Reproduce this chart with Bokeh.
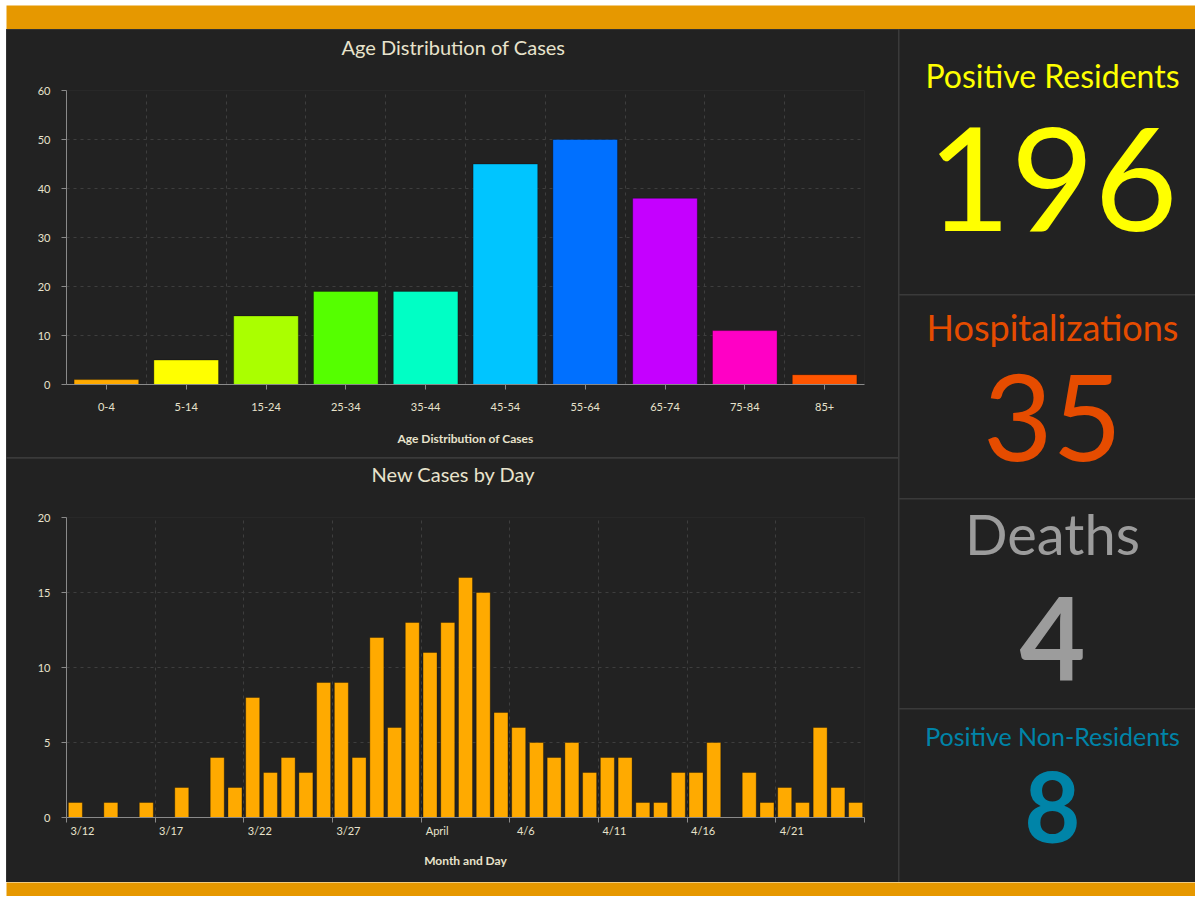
from bokeh.plotting import figure
from bokeh.models import ColumnDataSource, FixedTicker, Range1d, LinearAxis, Spacer, Title
from bokeh.layouts import row, column
from bokeh.embed import file_html
from bokeh.resources import INLINE
from bokeh.core.properties import value

# ---------------- data ----------------
age_groups = ["0-4", "5-14", "15-24", "25-34", "35-44", "45-54", "55-64", "65-74", "75-84", "85+"]
age_cases = [1, 5, 14, 19, 19, 45, 50, 38, 11, 2]
age_colors = ["#FFAA00", "#FFFF00", "#AAFF00", "#55FF00", "#00FFC5",
              "#00C5FF", "#0070FF", "#C500FF", "#FF00C5", "#FF5500"]
age_y_ticks = [0, 10, 20, 30, 40, 50, 60]

day_dates = ["3/12", "3/13", "3/14", "3/15", "3/16", "3/17", "3/18", "3/19", "3/20", "3/21",
             "3/22", "3/23", "3/24", "3/25", "3/26", "3/27", "3/28", "3/29", "3/30", "3/31",
             "4/1", "4/2", "4/3", "4/4", "4/5", "4/6", "4/7", "4/8", "4/9", "4/10",
             "4/11", "4/12", "4/13", "4/14", "4/15", "4/16", "4/17", "4/18", "4/19", "4/20",
             "4/21", "4/22", "4/23", "4/24", "4/25"]
daily_cases = [1, 0, 1, 0, 1, 0, 2, 0, 4, 2,
               8, 3, 4, 3, 9, 9, 4, 12, 6, 13,
               11, 13, 16, 15, 7, 6, 5, 4, 5, 3,
               4, 4, 1, 1, 3, 3, 5, 0, 3, 1,
               2, 1, 6, 2, 1]
date_tick_days = [0, 5, 10, 15, 20, 25, 30, 35, 40]
date_tick_labels = ["3/12", "3/17", "3/22", "3/27", "April", "4/6", "4/11", "4/16", "4/21"]
daily_y_ticks = [0, 5, 10, 15, 20]

kpi_titles = ["Positive Residents", "Hospitalizations", "Deaths", "Positive Non-Residents"]
kpi_values = ["196", "35", "4", "8"]
kpi_colors = ["#FFFF00", "#E64C00", "#9C9C9C", "#0084A8"]

# ---------------- style ----------------
BG = "#222222"
SEP = "#3a3a3a"
ORANGE = "#E69800"
TXT = "#e8e3cc"
GRID = "#3e3e3e"
AXIS = "#8a8a8a"
FONT = "Lato"

TOTAL_W = 1189
LEFT_W = 892
RIGHT_W = TOTAL_W - LEFT_W - 1


def base_fig(w, h, **kw):
    p = figure(width=w, height=h, toolbar_location=None, output_backend="svg",
               background_fill_color=BG, border_fill_color=BG, outline_line_color=None, **kw)
    return p


def style_axes(p):
    for ax in p.axis:
        ax.axis_line_color = AXIS
        ax.major_tick_line_color = AXIS
        ax.minor_tick_line_color = None
        ax.major_tick_in = 0
        ax.major_tick_out = 5
        ax.major_label_text_color = TXT
        ax.major_label_text_font = FONT
        ax.major_label_text_font_size = "11px"
        ax.axis_label_text_color = TXT
        ax.axis_label_text_font = FONT
        ax.axis_label_text_font_size = "12px"
        ax.axis_label_text_font_style = "bold"
    for g in p.grid:
        g.grid_line_color = GRID
        g.grid_line_dash = "3 4"
        g.grid_line_width = 1


def add_title(p, text, offset):
    # a thin spacer between frame and title pushes the title towards the panel top
    p.add_layout(Title(text=" ", text_font_size="1px", standoff=29), "above")
    p.add_layout(Title(text=text, align="left", offset=offset, standoff=0, text_color=TXT,
                       text_font=FONT, text_font_size="20px", text_font_style="normal"),
                 "above")


# ---------------- age chart ----------------
p1 = base_fig(LEFT_W, 428, x_range=age_groups, y_range=Range1d(0, 60),
              min_border_left=60, min_border_right=34, min_border_top=61, min_border_bottom=73)
src1 = ColumnDataSource(dict(age=age_groups, cases=age_cases, color=age_colors))
p1.vbar(x="age", top="cases", width=0.81, fill_color="color", line_color="#000000",
        line_alpha=0.3, source=src1)
style_axes(p1)
add_title(p1, "Age Distribution of Cases", 275)
p1.yaxis.ticker = FixedTicker(ticks=age_y_ticks)
p1.yaxis.major_label_standoff = 11
p1.xaxis.axis_label = "Age Distribution of Cases"
p1.xaxis.major_label_standoff = 13
p1.xaxis.axis_label_standoff = 17
p1.xgrid.ticker = FixedTicker(ticks=list(range(1, len(age_groups) + 1)))
p1.ygrid.ticker = FixedTicker(ticks=age_y_ticks)

# ---------------- daily chart ----------------
n_days = len(daily_cases)
p2 = base_fig(LEFT_W, 424, x_range=Range1d(0, n_days), y_range=Range1d(0, 20),
              min_border_left=60, min_border_right=34, min_border_top=59, min_border_bottom=65)
src2 = ColumnDataSource(dict(x=[i + 0.5 for i in range(n_days)], cases=daily_cases, date=day_dates))
p2.vbar(x="x", top="cases", width=0.79, fill_color="#FFAA00", line_color="#000000",
        line_alpha=0.3, source=src2)
tick_bounds = list(range(0, n_days + 1, 5))
p2.xaxis.ticker = FixedTicker(ticks=tick_bounds)
p2.xaxis.major_label_overrides = {t: "" for t in tick_bounds}
p2.extra_x_ranges = {"lbl": Range1d(-0.9, n_days - 0.9)}
lab_ax = LinearAxis(x_range_name="lbl", ticker=FixedTicker(ticks=date_tick_days),
                    major_label_overrides=dict(zip(date_tick_days, date_tick_labels)))
p2.add_layout(lab_ax, "below")
style_axes(p2)
add_title(p2, "New Cases by Day", 305)
p2.xaxis[0].major_label_text_font_size = "1px"
p2.xaxis[0].major_label_standoff = 0
lab_ax.axis_line_color = None
lab_ax.major_tick_line_color = None
lab_ax.major_tick_out = 0
lab_ax.major_label_standoff = 1
lab_ax.axis_label = "Month and Day"
lab_ax.axis_label_standoff = 13
p2.yaxis.ticker = FixedTicker(ticks=daily_y_ticks)
p2.yaxis.major_label_standoff = 11
p2.xgrid.ticker = FixedTicker(ticks=tick_bounds[1:])
p2.ygrid.ticker = FixedTicker(ticks=daily_y_ticks)

# ---------------- KPI panels ----------------
kpi_heights = [265, 203, 209, 173]
kpi_title_px = [32, 36, 56, 25]
kpi_title_base = [60, 46, 56, 37]
kpi_value_px = [144, 120, 114, 97]
kpi_value_base = [203, 167, 182, 135]
kpi_value_style = ["normal", "normal", "bold", "bold"]


def text_y(base, px):
    # compensate for where the renderer places the alphabetic baseline
    return base - (0.36 * px + 2)


def kpi_fig(i):
    h = kpi_heights[i]
    p = base_fig(RIGHT_W, h, x_range=Range1d(0, RIGHT_W), y_range=Range1d(h, 0),
                 x_axis_location=None, y_axis_location=None, min_border=0)
    p.grid.visible = False
    cx = RIGHT_W / 2 + 5
    p.text(x=[cx], y=[text_y(kpi_title_base[i], kpi_title_px[i])], text=[kpi_titles[i]],
           text_color=kpi_colors[i], text_font=value(FONT),
           text_font_size=f"{kpi_title_px[i]}px", text_align="center",
           text_baseline="alphabetic")
    p.text(x=[cx], y=[text_y(kpi_value_base[i], kpi_value_px[i])], text=[kpi_values[i]],
           text_color=kpi_colors[i], text_font=value(FONT),
           text_font_size=f"{kpi_value_px[i]}px", text_align="center",
           text_baseline="alphabetic", text_font_style=kpi_value_style[i])
    return p


kpis = [kpi_fig(i) for i in range(4)]


# ---------------- bands ----------------
def band(h):
    p = base_fig(TOTAL_W, h, x_axis_location=None, y_axis_location=None, min_border=0)
    p.background_fill_color = ORANGE
    p.border_fill_color = ORANGE
    p.grid.visible = False
    return p


top_band = band(24)
bottom_band = band(14)

left_col = column(p1, p2, spacing=1, styles={"background-color": SEP})
right_col = column(*kpis, spacing=1, styles={"background-color": SEP})
main = row(left_col, right_col, spacing=1, styles={"background-color": SEP})
dash = column(top_band, main, bottom_band, spacing=0)
layout = column(Spacer(height=5), row(Spacer(width=6), dash, spacing=0), spacing=0)

open("out.html", "w").write(file_html(layout, INLINE))
